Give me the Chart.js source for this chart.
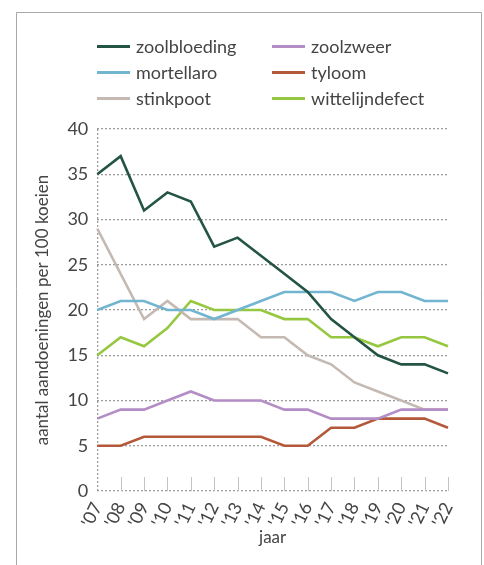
<!DOCTYPE html>
<html>
<head>
<meta charset="utf-8">
<script src="https://cdn.jsdelivr.net/npm/chart.js@4"></script>
<style>
  html, body { margin: 0; padding: 0; background: #fff; }
  body { width: 484px; height: 565px; position: relative; overflow: hidden;
         font-family: 'Lato', sans-serif; color: #444; }
  .chart-box { position: absolute; left: 0; top: 0; width: 484px; height: 565px; }
  .legend { position: absolute; left: 97px; top: 35px; width: 380px;
            display: grid; grid-template-columns: 175px 180px; row-gap: 4px; }
  .legend-item { display: flex; align-items: center; font-size: 18px; height: 22px; }
  .legend-swatch { width: 33px; height: 3px; margin-right: 6px; }
</style>
</head>
<body>
<div class="chart-box"><canvas id="chart" width="484" height="565"></canvas></div>
<div class="legend" id="legend"></div>
<script>
// ── Data ─────────────────────────────────────────────────
const years = ["'07","'08","'09","'10","'11","'12","'13","'14","'15","'16","'17","'18","'19","'20","'21","'22"];

const zoolbloeding    = [35, 37, 31, 33, 32, 27, 28, 26, 24, 22, 19, 17, 15, 14, 14, 13];
const zoolzweer       = [8, 9, 9, 10, 11, 10, 10, 10, 9, 9, 8, 8, 8, 9, 9, 9];
const mortellaro      = [20, 21, 21, 20, 20, 19, 20, 21, 22, 22, 22, 21, 22, 22, 21, 21];
const tyloom          = [5, 5, 6, 6, 6, 6, 6, 6, 5, 5, 7, 7, 8, 8, 8, 7];
const stinkpoot       = [29, 24, 19, 21, 19, 19, 19, 17, 17, 15, 14, 12, 11, 10, 9, 9];
const wittelijndefect = [15, 17, 16, 18, 21, 20, 20, 20, 19, 19, 17, 17, 16, 17, 17, 16];

const yTicks = [0, 5, 10, 15, 20, 25, 30, 35, 40];

// legend order: row by row, two columns
const series = [
  { label: 'zoolbloeding',    data: zoolbloeding,    color: '#245443' },
  { label: 'zoolzweer',       data: zoolzweer,       color: '#b38dc6' },
  { label: 'mortellaro',      data: mortellaro,      color: '#71b5d1' },
  { label: 'tyloom',          data: tyloom,          color: '#b4583a' },
  { label: 'stinkpoot',       data: stinkpoot,       color: '#c5bab3' },
  { label: 'wittelijndefect', data: wittelijndefect, color: '#95c840' },
];

// ── Legend (HTML) ────────────────────────────────────────
const legendEl = document.getElementById('legend');
series.forEach(s => {
  const item = document.createElement('div');
  item.className = 'legend-item';
  item.innerHTML = `<span class="legend-swatch" style="background:${s.color}"></span>${s.label}`;
  legendEl.appendChild(item);
});

// ── Outer frame (open at the bottom) ─────────────────────
const frame = {
  id: 'frame',
  beforeDraw(chart) {
    const { ctx, width, height } = chart;
    ctx.save();
    ctx.strokeStyle = '#a8a8a8';
    ctx.lineWidth = 1;
    ctx.beginPath();
    ctx.moveTo(16.5, height);
    ctx.lineTo(16.5, 12.5);
    ctx.lineTo(width - 2.5, 12.5);
    ctx.lineTo(width - 2.5, height);
    ctx.stroke();
    ctx.restore();
  }
};

// ── Inward tick marks on the x axis ──────────────────────
const innerTicks = {
  id: 'innerTicks',
  afterDatasetsDraw(chart) {
    const { ctx, scales: { x }, chartArea } = chart;
    ctx.save();
    ctx.strokeStyle = '#c4c4c4';
    ctx.lineWidth = 1;
    years.forEach((y, i) => {
      if (i === 0) return;
      const px = Math.round(x.getPixelForValue(i)) + 0.5;
      ctx.beginPath();
      ctx.moveTo(px, chartArea.bottom);
      ctx.lineTo(px, chartArea.bottom - 14);
      ctx.stroke();
    });
    ctx.restore();
  }
};

Chart.defaults.font.family = "'Lato', sans-serif";
Chart.defaults.color = '#444';

const dotColor = '#9c9c9c';

new Chart(document.getElementById('chart'), {
  type: 'line',
  data: {
    labels: years,
    datasets: series.map(s => ({
      label: s.label,
      data: s.data,
      borderColor: s.color,
      backgroundColor: s.color,
      borderWidth: 2.6,
      pointRadius: 0,
      tension: 0,
    })),
  },
  options: {
    responsive: false,
    animation: false,
    layout: { padding: { top: 129, right: 36, bottom: 13, left: 28 } },
    plugins: { legend: { display: false }, tooltip: { enabled: false } },
    scales: {
      x: {
        offset: false,
        grid: {
          color: c => c.index === 0 ? dotColor : 'transparent',
          lineWidth: 1.3,
          drawTicks: false,
        },
        border: { display: false, dash: [2, 2] },
        ticks: { autoSkip: false, font: { size: 18 }, color: '#444', minRotation: 64, maxRotation: 64, padding: 8 },
        title: { display: true, text: 'jaar', font: { size: 17 }, color: '#444', padding: { top: -11 } },
      },
      y: {
        min: 0, max: 40,
        afterBuildTicks: axis => { axis.ticks = yTicks.map(v => ({ value: v })); },
        grid: { color: dotColor, lineWidth: 1.3, drawTicks: false },
        border: { display: false, dash: [2, 2] },
        ticks: { font: { size: 18 }, color: '#444', padding: 9 },
        title: { display: true, text: 'aantal aandoeningen per 100 koeien', font: { size: 17 }, color: '#444', padding: { bottom: 6 } },
      },
    },
  },
  plugins: [frame, innerTicks],
});
</script>
</body>
</html>
